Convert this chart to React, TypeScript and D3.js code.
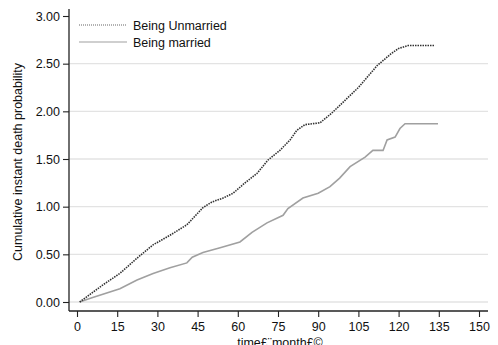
import { useEffect, useRef } from "react";
import * as d3 from "d3";

// months and cumulative hazard
const unmarriedT = [1, 9.7, 16, 22.4, 28.4, 34.7, 41, 47, 50.4, 54.5, 58.2, 62.7, 67.2, 71.3, 75.7, 79.5, 82, 85, 90.7, 95, 105, 112, 117, 120, 123.5, 133.6];
const unmarriedV = [0, 0.18, 0.3, 0.46, 0.6, 0.7, 0.81, 0.99, 1.05, 1.09, 1.14, 1.25, 1.35, 1.49, 1.59, 1.7, 1.8, 1.86, 1.88, 1.98, 2.25, 2.48, 2.6, 2.66, 2.69, 2.69];

const marriedT = [1, 5, 16, 22.4, 28.4, 34.7, 41, 43, 47, 53.4, 60.8, 65.3, 70.9, 76.9, 78.7, 84.3, 90, 94.4, 98, 101.9, 107.5, 110.4, 114.2, 115.7, 118.7, 120.5, 122.4, 134.7];
const marriedV = [0, 0.04, 0.14, 0.23, 0.3, 0.36, 0.41, 0.47, 0.52, 0.57, 0.63, 0.73, 0.83, 0.91, 0.98, 1.09, 1.14, 1.21, 1.3, 1.42, 1.52, 1.59, 1.59, 1.7, 1.73, 1.82, 1.87, 1.87];

const xTicks = [0, 15, 30, 45, 60, 75, 90, 105, 120, 135, 150];
const yTicks = [0, 0.5, 1, 1.5, 2, 2.5, 3];
const gridTicks = [0, 0.5, 1, 1.5, 2, 2.5];

const seriesNames = ["Being Unmarried", "Being married"];
const xTitle = "time£¨month£©";
const yTitle = "Cumulative instant death probability";

export default function App() {
    const ref = useRef<SVGSVGElement>(null);

    useEffect(() => {
        const svg = d3.select(ref.current);
        svg.selectAll("*").remove();

        const font = "'Liberation Sans', Arial, sans-serif";
        const x = d3.scaleLinear().domain([0, 150]).range([77, 479]);
        const y = d3.scaleLinear().domain([0, 3]).range([302, 16]);
        const axisX = 69;
        const axisY = 311;

        svg.append("rect").attr("width", 498).attr("height", 345).attr("fill", "#fff");

        // gridlines
        svg.append("g")
            .selectAll("line")
            .data(gridTicks)
            .enter()
            .append("line")
            .attr("x1", axisX)
            .attr("x2", 488)
            .attr("y1", d => y(d))
            .attr("y2", d => y(d))
            .attr("stroke", "#e3e3e3")
            .attr("stroke-width", 1.4);

        // y axis
        const yAxis = svg.append("g")
            .attr("transform", `translate(${axisX},0)`)
            .call(d3.axisLeft(y).tickValues(yTicks).tickFormat(d3.format(".2f")).tickSize(6).tickPadding(3));
        yAxis.select(".domain").attr("d", `M0,9V${axisY}`).attr("stroke", "#222").attr("stroke-width", 1.3);
        yAxis.selectAll(".tick line").attr("stroke", "#222").attr("stroke-width", 1.1);
        yAxis.selectAll("text").style("font-family", font).style("font-size", "12.5px").attr("fill", "#111");

        // x axis
        const xAxis = svg.append("g")
            .attr("transform", `translate(0,${axisY})`)
            .call(d3.axisBottom(x).tickValues(xTicks).tickSize(6).tickPadding(5));
        xAxis.select(".domain").attr("d", `M${axisX},0H488`).attr("stroke", "#222").attr("stroke-width", 1.3);
        xAxis.selectAll(".tick line").attr("stroke", "#222").attr("stroke-width", 1.1);
        xAxis.selectAll("text").style("font-family", font).style("font-size", "12.5px").attr("fill", "#111");

        // titles
        svg.append("text")
            .attr("x", 280)
            .attr("y", 347)
            .attr("text-anchor", "middle")
            .style("font-family", font)
            .style("font-size", "12.5px")
            .attr("fill", "#111")
            .text(xTitle);

        svg.append("text")
            .attr("transform", "translate(22,162) rotate(-90)")
            .attr("text-anchor", "middle")
            .style("font-family", font)
            .style("font-size", "12.5px")
            .attr("fill", "#111")
            .text(yTitle);

        // curves
        const line = d3.line<[number, number]>()
            .x(d => x(d[0]))
            .y(d => y(d[1]));

        const married: [number, number][] = marriedT.map((t, i) => [t, marriedV[i]]);
        const unmarried: [number, number][] = unmarriedT.map((t, i) => [t, unmarriedV[i]]);

        svg.append("path")
            .attr("d", line(married))
            .attr("fill", "none")
            .attr("stroke", "#a0a0a0")
            .attr("stroke-width", 1.6);

        svg.append("path")
            .attr("d", line(unmarried))
            .attr("fill", "none")
            .attr("stroke", "#333")
            .attr("stroke-width", 1.6)
            .attr("stroke-dasharray", "1.5,1");

        // legend
        const legend = svg.append("g");
        [0, 1].forEach(i => {
            const ly = 25 + i * 17;
            legend.append("line")
                .attr("x1", 79).attr("x2", 127)
                .attr("y1", ly).attr("y2", ly)
                .attr("stroke", i === 0 ? "#666" : "#a0a0a0")
                .attr("stroke-width", 1.1)
                .attr("stroke-dasharray", i === 0 ? "1,1" : null);
            legend.append("text")
                .attr("x", 133)
                .attr("y", ly + 4.5)
                .style("font-family", font)
                .style("font-size", "12.5px")
                .attr("fill", "#111")
                .text(seriesNames[i]);
        });
    }, []);

    return (
        <svg ref={ref} width={498} height={345} style={{ position: "absolute", left: 0, top: 0 }} />
    );
}
